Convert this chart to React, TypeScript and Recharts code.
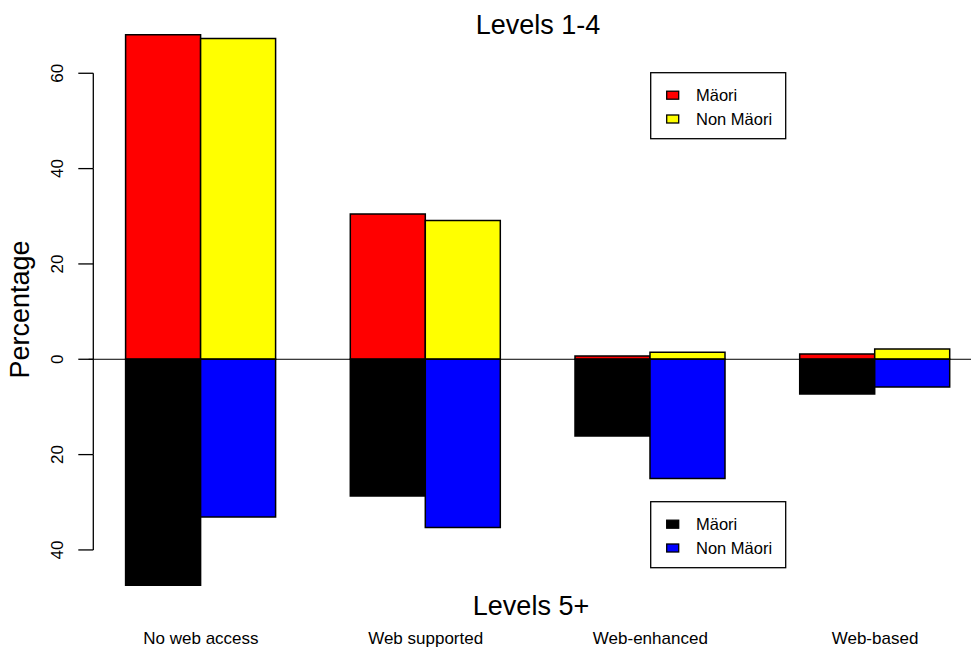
import React from 'react';
import { BarChart, Bar, XAxis, YAxis, ReferenceLine } from 'recharts';

// ---- data ----
const categories = ['No web access', 'Web supported', 'Web-enhanced', 'Web-based'];
const maoriLevels14 = [68.1, 30.5, 0.7, 1.1];
const nonMaoriLevels14 = [67.3, 29.1, 1.45, 2.15];
const maoriLevels5 = [47.4, 28.7, 16.1, 7.3];
const nonMaoriLevels5 = [33.1, 35.3, 25.0, 5.8];
const yTicks = [60, 40, 20, 0, -20, -40];
const maoriName = 'Mäori';
const nonMaoriName = 'Non Mäori';
const topTitle = 'Levels 1-4';
const bottomTitle = 'Levels 5+';
const yLabel = 'Percentage';

const RED = '#ff0000';
const YELLOW = '#ffff00';
const BLACK = '#000000';
const BLUE = '#0000ff';

const data = categories.map((c, i) => ({
  category: c,
  m14: maoriLevels14[i],
  n14: nonMaoriLevels14[i],
  m5: -maoriLevels5[i],
  n5: -nonMaoriLevels5[i],
}));

const topLegend = [
  { name: maoriName, color: RED },
  { name: nonMaoriName, color: YELLOW },
];
const bottomLegend = [
  { name: maoriName, color: BLACK },
  { name: nonMaoriName, color: BLUE },
];

// ---- layout ----
const W = 988;
const H = 651;
const TOP = 25.6;
const XH = 53.4;
const LEFT = 88.6;
const RIGHT = 0.6;
const Y_MIN = -50;
const Y_MAX = 70;
const PX = (H - TOP - XH) / (Y_MAX - Y_MIN);
const FONT = '"Liberation Sans", Arial, Helvetica, sans-serif';

const YTick = (props: any) => {
  const { x, y, payload } = props;
  const v = payload.value as number;
  const ax = x + 4.7;
  const tx = x - 26;
  return (
    <g>
      <line x1={ax - 15} x2={ax} y1={y} y2={y} stroke="#000" strokeWidth={1.3} />
      {v > -40 && <line x1={ax} x2={ax} y1={y} y2={y + 20 * PX} stroke="#000" strokeWidth={1.3} />}
      <text
        x={tx}
        y={y}
        transform={`rotate(-90 ${tx} ${y})`}
        textAnchor="middle"
        fontSize={17}
        fontFamily={FONT}
        fill="#000"
      >
        {Math.abs(v)}
      </text>
    </g>
  );
};

const CatTick = (props: any) => {
  const { x, y, payload } = props;
  return (
    <text x={x} y={y + 46.4} textAnchor="middle" fontSize={17} fontFamily={FONT} fill="#000">
      {payload.value}
    </text>
  );
};

const LegendBox = ({ top, items }: { top: number; items: { name: string; color: string }[] }) => (
  <g transform={`translate(650.7, ${top})`}>
    <rect x={0} y={0} width={135} height={66} fill="#fff" stroke="#000" strokeWidth={1.3} />
    {items.map((it, i) => (
      <g key={i}>
        <rect x={16} y={18.5 + i * 23.8} width={12} height={8} fill={it.color} stroke="#000" strokeWidth={1.3} />
        <text x={45.3} y={28.5 + i * 23.8} fontSize={16.5} fontFamily={FONT} fill="#000">
          {it.name}
        </text>
      </g>
    ))}
  </g>
);

export default function App() {
  return (
    <div
      style={{
        position: 'fixed',
        left: 0,
        top: 0,
        width: 971,
        height: 651,
        overflow: 'hidden',
        background: '#fff',
        fontFamily: FONT,
      }}
    >
      <BarChart
        width={W}
        height={H}
        data={data}
        margin={{ top: TOP, right: RIGHT, bottom: 0, left: 0 }}
        stackOffset="sign"
        barGap={0}
        barSize={75}
      >
        <XAxis
          dataKey="category"
          height={XH}
          axisLine={false}
          tickLine={false}
          tickSize={0}
          tickMargin={0}
          interval={0}
          tick={<CatTick />}
        />
        <YAxis
          type="number"
          width={LEFT}
          domain={[Y_MIN, Y_MAX]}
          ticks={yTicks}
          interval={0}
          axisLine={false}
          tickLine={false}
          tickSize={0}
          tickMargin={0}
          tick={<YTick />}
        />
        <Bar dataKey="m14" name={maoriName} stackId="m" fill={RED} stroke="#000" strokeWidth={1.5} isAnimationActive={false} />
        <Bar dataKey="n14" name={nonMaoriName} stackId="n" fill={YELLOW} stroke="#000" strokeWidth={1.5} isAnimationActive={false} />
        <Bar dataKey="m5" name={maoriName} stackId="m" fill={BLACK} stroke="#000" strokeWidth={1.5} isAnimationActive={false} />
        <Bar dataKey="n5" name={nonMaoriName} stackId="n" fill={BLUE} stroke="#000" strokeWidth={1.5} isAnimationActive={false} />
        <ReferenceLine y={0} stroke="#000" strokeWidth={1} />
      </BarChart>
      <svg
        width={971}
        height={651}
        style={{ position: 'absolute', left: 0, top: 0, pointerEvents: 'none' }}
      >
        <text x={538} y={34} textAnchor="middle" fontSize={27} fontFamily={FONT} fill="#000">
          {topTitle}
        </text>
        <text x={531} y={615} textAnchor="middle" fontSize={27} fontFamily={FONT} fill="#000">
          {bottomTitle}
        </text>
        <text
          x={29.3}
          y={309.5}
          transform="rotate(-90 29.3 309.5)"
          textAnchor="middle"
          fontSize={27}
          fontFamily={FONT}
          fill="#000"
        >
          {yLabel}
        </text>
        <LegendBox top={72.7} items={topLegend} />
        <LegendBox top={501.7} items={bottomLegend} />
      </svg>
    </div>
  );
}
